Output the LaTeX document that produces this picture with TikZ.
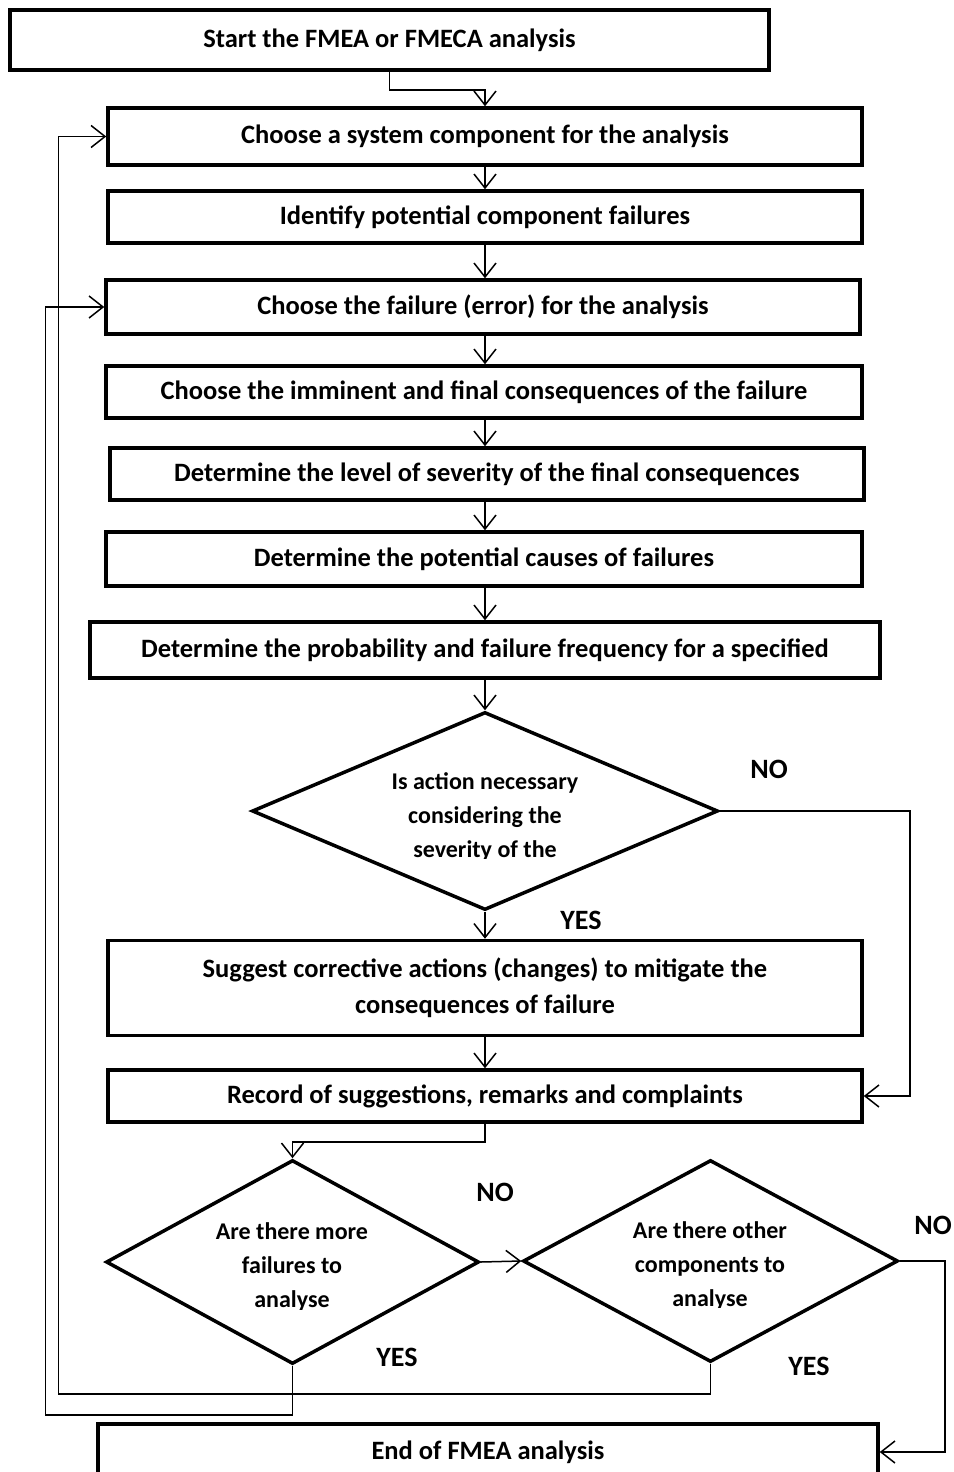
\documentclass[tikz,border=0pt]{standalone}
\usepackage{fontspec}
\setmainfont{Carlito}
\usetikzlibrary{arrows.meta,shapes.geometric}
\begin{document}
\begin{tikzpicture}[x=1pt,y=-1pt,
 box/.style={draw,line width=3.5pt,inner sep=0pt,font=\bfseries\fontsize{26.5}{36}\selectfont,align=center},
 dia/.style={draw,diamond,line width=3.5pt,inner sep=0pt},
 lbl/.style={font=\bfseries\fontsize{28}{30}\selectfont},
 dtext/.style={font=\bfseries\fontsize{24}{34}\selectfont,align=center},
 conn/.style={line width=1.5pt,-{Straight Barb[length=14pt,width=22pt,line width=1.5pt]}},
 plain/.style={line width=1.5pt}]
\useasboundingbox (0,0) rectangle (953,1472);
\node[box,minimum width=759pt,minimum height=60pt] (start) at (389.5,40) {Start the FMEA or FMECA analysis};
\node[box,minimum width=754pt,minimum height=57pt] (comp) at (485,136.5) {Choose a system component for the analysis};
\node[box,minimum width=754pt,minimum height=52pt] (ident) at (485,217) {Identify potential component failures};
\node[box,minimum width=754pt,minimum height=54pt] (fail) at (483,307) {Choose the failure (error) for the analysis};
\node[box,minimum width=756pt,minimum height=52pt] (conseq) at (484,392) {Choose the imminent and final consequences of the failure};
\node[box,minimum width=754pt,minimum height=52pt] (sever) at (487,474) {Determine the level of severity of the final consequences};
\node[box,minimum width=756pt,minimum height=54pt] (causes) at (484,559) {Determine the potential causes of failures};
\node[box,minimum width=790pt,minimum height=56pt] (prob) at (485,650) {Determine the probability and failure frequency for a specified};
\node[dia,minimum width=466pt,minimum height=198pt] (d1) at (485,811) {};
\node[box,minimum width=754pt,minimum height=95pt] (suggest) at (485,988) {Suggest corrective actions (changes) to mitigate the\\consequences of failure};
\node[box,minimum width=754pt,minimum height=52pt] (record) at (485,1096) {Record of suggestions, remarks and complaints};
\node[dia,minimum width=373pt,minimum height=204pt] (d2) at (292.5,1262) {};
\node[dia,minimum width=375pt,minimum height=202pt] (d3) at (710.5,1261) {};
\node[box,minimum width=780pt,minimum height=56pt] (end) at (488,1452) {End of FMEA analysis};

\begin{scope}
\clip (250,700) rectangle (720,858);
\node[dtext] (t1) at (485,817) {Is action necessary\\considering the\\severity of the};
\end{scope}
\begin{scope}
\clip (100,1160) rectangle (480,1309);
\node[dtext] (t2) at (292,1267) {Are there more\\failures to\\analyse};
\end{scope}
\begin{scope}
\clip (520,1160) rectangle (900,1307);
\node[dtext] (t3) at (710,1266) {Are there other\\components to\\analyse};
\end{scope}

\node[lbl] (no1) at (769,769) {NO};
\node[lbl] (yes1) at (581,920) {YES};
\node[lbl] (no2) at (495,1192) {NO};
\node[lbl] (no3) at (933,1225) {NO};
\node[lbl] (yes2) at (397,1357) {YES};
\node[lbl] (yes3) at (809,1366) {YES};

\draw[conn] (start.south) -- ++(0,18) -| (comp.north);
\draw[conn] (comp.south) -- (comp.south |- ident.north);
\draw[conn] (ident.south) -- (ident.south |- fail.north);
\draw[conn] (ident.south |- fail.south) -- (ident.south |- conseq.north);
\draw[conn] (ident.south |- conseq.south) -- (ident.south |- sever.north);
\draw[conn] (ident.south |- sever.south) -- (ident.south |- causes.north);
\draw[conn] (ident.south |- causes.south) -- (ident.south |- prob.north);
\draw[conn] (prob.south) -- (d1.north);
\draw[conn] (d1.south) -- (d1.south |- suggest.north);
\draw[conn] (suggest.south) -- (suggest.south |- record.north);
\draw[conn] (d1.east) -- ++(190,0) |- (record.east);
\draw[conn] (record.south) -- ++(0,18) -| (d2.north);
\draw[conn] (d2.east) -- (d3.west);
\draw[conn] (d3.east) -- ++(45,0) |- (end.east);
\draw[conn] (d2.south) -- ++(0,49) -| ([xshift=-59pt]fail.west) -- (fail.west);
\draw[conn] (d3.south) -- ++(0,30) -| ([xshift=-48pt]comp.west) -- (comp.west);
\end{tikzpicture}
\end{document}
